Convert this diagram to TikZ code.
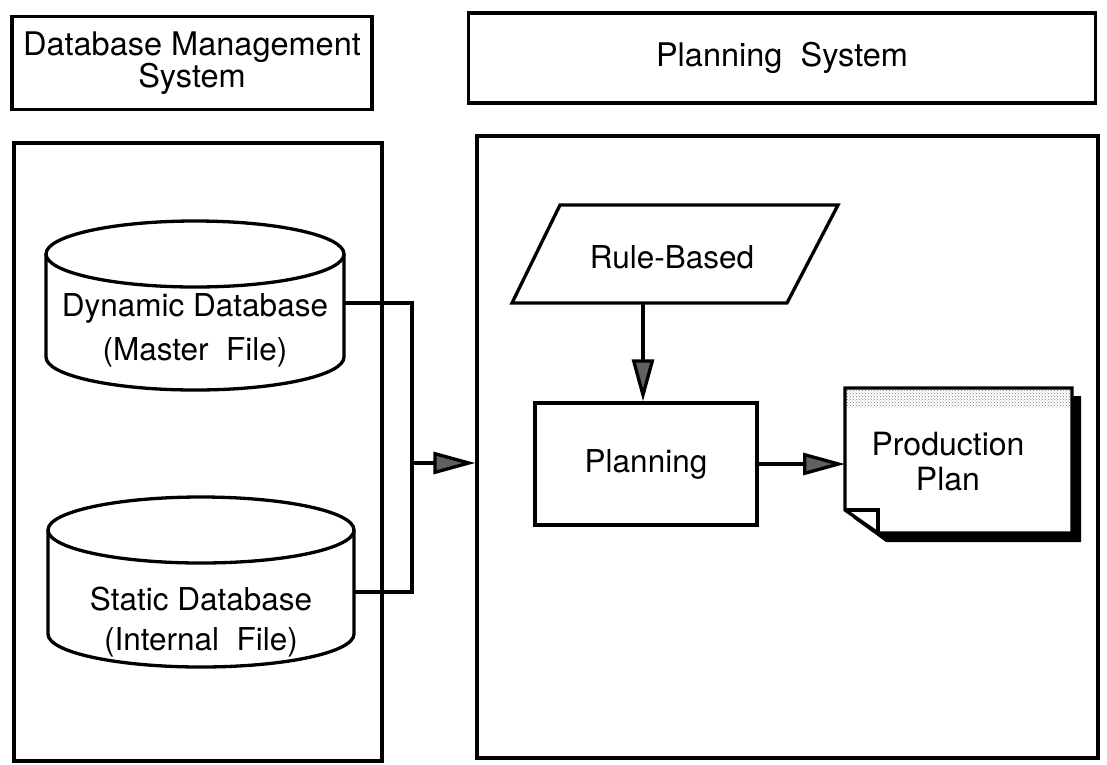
\documentclass[tikz,border=0pt]{standalone}
\usepackage{fontspec}
\setmainfont{TeX Gyre Heros}
\usetikzlibrary{arrows.meta,patterns}
\begin{document}
\begin{tikzpicture}[x=1pt,y=-1pt,
  line width=3.3pt, line join=miter,
  box/.style={draw, line width=3.3pt, inner sep=0pt, align=center},
  lbl/.style={align=center, inner sep=0pt},
  flow/.style={line width=3.3pt, -{Triangle[length=42pt,width=22pt,fill=gray!75!black]}},
  wire/.style={line width=3.3pt}]
\useasboundingbox (0,0) rectangle (1107,764);
\fill[white] (0,0) rectangle (1107,764);
% headers
\node[box, minimum width=360pt, minimum height=93pt, font=\fontsize{32.5}{32}\selectfont] (dbmsH) at (192,63) {Database Management\\System};
\node[box, minimum width=627pt, minimum height=90pt, font=\fontsize{32.5}{32}\selectfont] (planH) at (782,58) {Planning\ \ System};
% big boxes
\node[box, minimum width=368pt, minimum height=618pt] (leftBox) at (198,452) {};
\node[box, minimum width=621pt, minimum height=622pt] (rightBox) at (787.5,447) {};
% cylinder 1
\draw[fill=white] (46,254) -- (46,357) arc[start angle=180,end angle=0,x radius=149,y radius=33] -- (344,254);
\draw (195,254) ellipse[x radius=149,y radius=33];
\node[lbl, font=\fontsize{31.5}{44}\selectfont] (dyn) at (195,330) {Dynamic Database\\(Master\ \ File)};
\coordinate (dynR) at (344,303);
% cylinder 2
\draw[fill=white] (48,530) -- (48,634) arc[start angle=180,end angle=0,x radius=153,y radius=33] -- (354,530);
\draw (201,530) ellipse[x radius=153,y radius=33];
\node[lbl, font=\fontsize{31.5}{40}\selectfont] (stat) at (201,622) {Static Database\\(Internal\ \ File)};
\coordinate (statR) at (354,592);
% bus
\coordinate (busM) at (412,463);
\draw[wire] (dynR) -| (busM) |- (statR);
\draw[flow] (busM) -- (rightBox.west |- busM);
% rule-based
\draw (560,205) -- (838,205) -- (787,303) -- (512,303) -- cycle;
\node[lbl, font=\fontsize{31.5}{36}\selectfont] (rule) at (672,257) {Rule-Based};
\coordinate (ruleB) at (643,303);
% planning
\node[box, minimum width=222pt, minimum height=122pt, font=\fontsize{31.5}{36}\selectfont] (plan) at (646,464) {Planning};
\draw[flow] (ruleB) -- (ruleB |- plan.north);
% production plan document
\fill (853,396) -- (1081,396) -- (1081,542) -- (886,542) -- (853,518) -- cycle;
\draw[fill=white] (845,388) -- (1072,388) -- (1072,533) -- (878,533) -- (845,510) -- cycle;
\fill[pattern=crosshatch dots, pattern color=gray] (847,390) rectangle (1070,407);
\draw (845,510) -- (878,510) -- (878,533);
\node[lbl, font=\fontsize{32}{35}\selectfont] (prod) at (948,462) {Production\\Plan};
\coordinate (docW) at (845,464);
\draw[flow] (plan.east |- docW) -- (docW);
\end{tikzpicture}
\end{document}
